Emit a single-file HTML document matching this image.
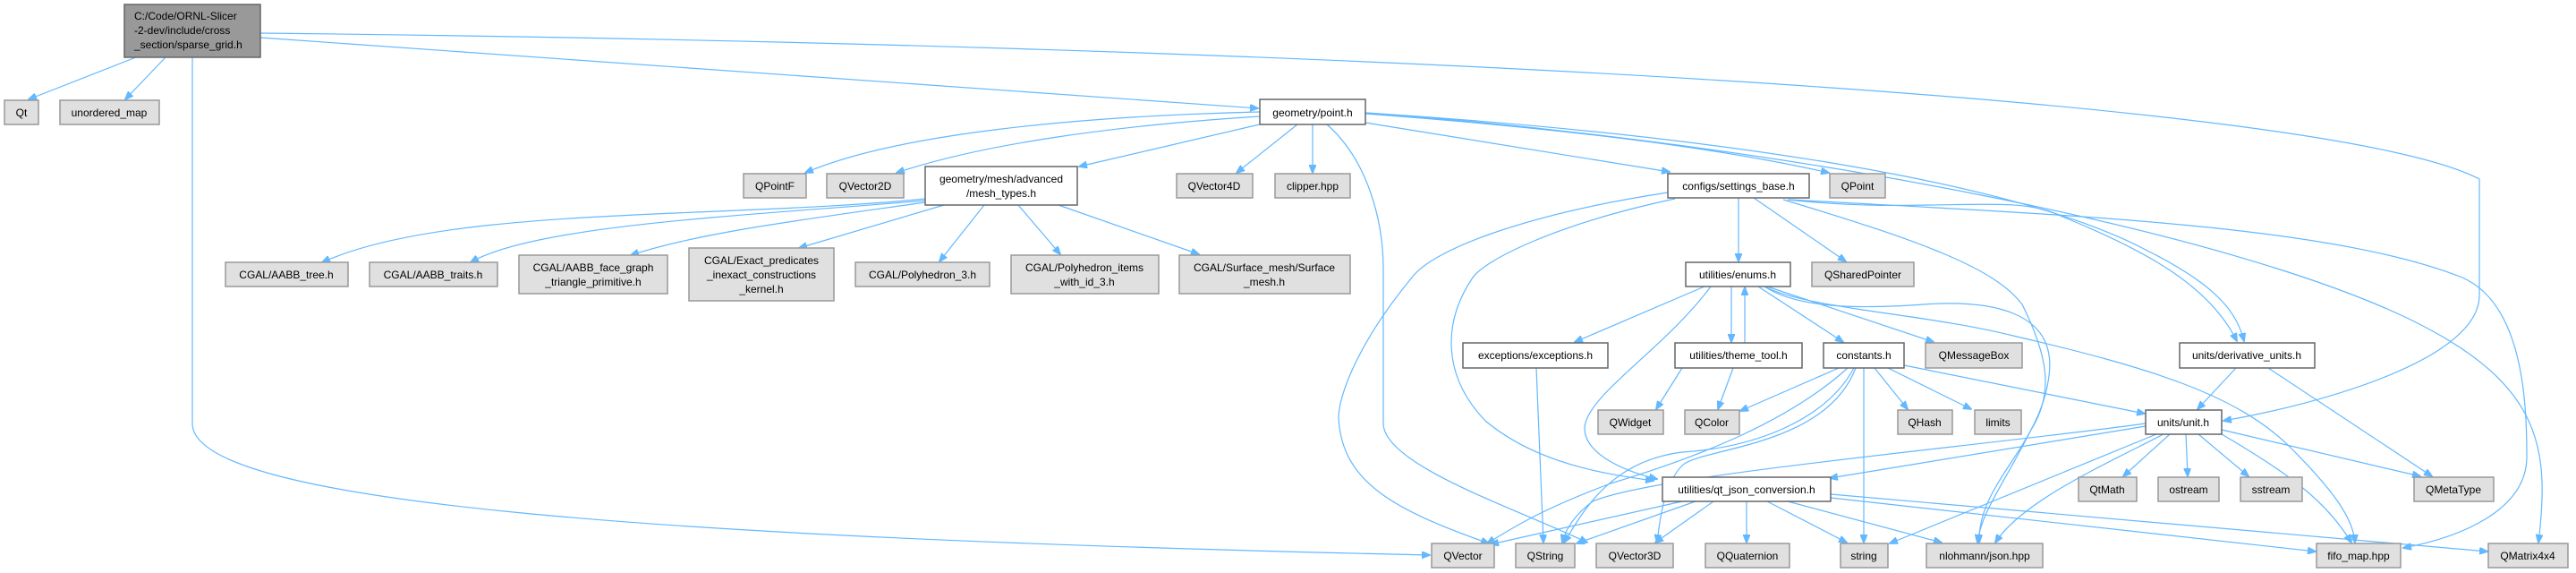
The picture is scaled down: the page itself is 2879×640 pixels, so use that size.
<!DOCTYPE html>
<html><head><meta charset="utf-8"><style>
html,body{margin:0;padding:0;background:#fff;}
svg{display:block;}
text{font-family:"Liberation Sans",sans-serif;font-size:12px;fill:#000;}
.g{fill:#e0e0e0;stroke:#999;stroke-width:1.5}
.w{fill:#fff;stroke:#666;stroke-width:1.5}
.m{fill:#999;stroke:#666;stroke-width:1.5}
path.e{fill:none;stroke:#63b8ff;stroke-width:1.2;marker-end:url(#a)}
</style></head><body>
<svg width="2879" height="640" viewBox="0 0 2879 640" xmlns="http://www.w3.org/2000/svg">
<defs><marker id="a" markerWidth="10" markerHeight="8" refX="9" refY="4" orient="auto" markerUnits="userSpaceOnUse"><path d="M0,0 L10,4 L0,8 z" fill="#63b8ff" stroke="#63b8ff"/></marker></defs>
<g>
<path class="e" d="M152,64 L32,111"/>
<path class="e" d="M185,64 L140,111"/>
<path class="e" d="M291,42 L1406,121"/>
<path class="e" d="M291,37 C1500,50 2600,110 2771,200 L2771,330 C2771,400 2600,450 2485,470"/>
<path class="e" d="M215,64 L215,473 C215,560 700,600 1598,620"/>
<path class="e" d="M1408,125 C1200,130 1000,150 900,193"/>
<path class="e" d="M1408,130 C1250,140 1100,160 1002,193"/>
<path class="e" d="M1412,138 L1206,186"/>
<path class="e" d="M1450,139 L1382,193"/>
<path class="e" d="M1467,139 L1467,193"/>
<path class="e" d="M1483,139 C1530,180 1546,250 1546,300 L1546,473 C1546,520 1700,570 1774,606"/>
<path class="e" d="M1526,137 L1866,192"/>
<path class="e" d="M1526,127 C1700,140 1900,160 2044,193"/>
<path class="e" d="M1526,126 C1900,150 2250,200 2400,280 C2480,320 2500,350 2508,381"/>
<path class="e" d="M1526,126 C2000,160 2500,260 2700,360 C2840,430 2850,500 2837,606"/>
<path class="e" d="M1943,221 L1943,292"/>
<path class="e" d="M1960,221 L2063,292"/>
<path class="e" d="M1864,215 C1700,240 1600,280 1578,310 C1520,380 1496,440 1496,467 C1500,540 1560,570 1664,607"/>
<path class="e" d="M1872,222 C1740,250 1660,290 1646,310 C1612,360 1612,420 1660,470 C1720,520 1800,530 1848,537"/>
<path class="e" d="M1993,223 C2150,270 2230,300 2260,340 C2290,400 2295,440 2270,480 C2240,540 2215,570 2210,606"/>
<path class="e" d="M1998,223 C2150,240 2250,215 2300,240 C2400,280 2470,320 2500,381"/>
<path class="e" d="M2000,223 C2300,240 2600,250 2752,310 C2820,340 2824,450 2824,510 C2824,570 2750,600 2686,612"/>
<path class="e" d="M1905,320 L1760,382"/>
<path class="e" d="M1935,320 L1935,382"/>
<path class="e" d="M1950,383 L1950,321"/>
<path class="e" d="M1965,320 L2060,382"/>
<path class="e" d="M1975,320 L2161,382"/>
<path class="e" d="M1972,320 C2010,345 2080,345 2150,340 C2220,335 2300,345 2290,420 C2280,500 2210,540 2212,606"/>
<path class="e" d="M1972,320 C2020,345 2150,350 2250,375 C2400,410 2500,440 2560,500 C2610,550 2630,580 2632,606"/>
<path class="e" d="M1912,320 C1860,390 1775,440 1771,477 C1770,505 1810,525 1852,535"/>
<path class="e" d="M1880,411 L1851,457"/>
<path class="e" d="M1937,411 L1920,457"/>
<path class="e" d="M1717,411 L1725,606"/>
<path class="e" d="M2055,411 L1945,459"/>
<path class="e" d="M2095,411 L2132,457"/>
<path class="e" d="M2110,411 L2203,457"/>
<path class="e" d="M2128,408 L2397,462"/>
<path class="e" d="M2083,411 L2083,606"/>
<path class="e" d="M2065,411 C2000,470 1900,510 1800,540 C1720,570 1690,590 1662,607"/>
<path class="e" d="M2072,411 C2040,470 1960,500 1880,505 C1800,515 1770,570 1748,606"/>
<path class="e" d="M2074,411 C2040,500 1900,500 1880,520 C1860,540 1855,580 1852,606"/>
<path class="e" d="M2499,411 L2456,457"/>
<path class="e" d="M2535,411 L2718,532"/>
<path class="e" d="M2398,476 L2045,534"/>
<path class="e" d="M2398,473 C2200,500 1850,530 1780,560 C1760,575 1750,590 1746,606"/>
<path class="e" d="M2425,485 L2373,532"/>
<path class="e" d="M2443,485 L2445,532"/>
<path class="e" d="M2457,485 L2513,532"/>
<path class="e" d="M2483,480 L2705,532"/>
<path class="e" d="M2483,485 C2560,530 2600,560 2628,606"/>
<path class="e" d="M2410,485 L2112,607"/>
<path class="e" d="M2418,485 C2350,520 2260,560 2230,606"/>
<path class="e" d="M1880,560 L1666,608"/>
<path class="e" d="M1895,560 L1762,607"/>
<path class="e" d="M1915,560 L1850,606"/>
<path class="e" d="M1952,560 L1952,606"/>
<path class="e" d="M1975,560 L2064,606"/>
<path class="e" d="M1998,560 L2170,606"/>
<path class="e" d="M2046,556 L2588,616"/>
<path class="e" d="M2046,552 L2780,616"/>
<path class="e" d="M1034,222 C800,245 500,230 360,293"/>
<path class="e" d="M1034,224 C850,240 600,250 526,293"/>
<path class="e" d="M1034,226 C900,245 780,260 705,285"/>
<path class="e" d="M1055,229 L893,277"/>
<path class="e" d="M1100,229 L1050,292"/>
<path class="e" d="M1138,229 L1185,284"/>
<path class="e" d="M1183,229 L1340,284"/>
</g>
<rect class="m" x="139" y="5" width="152" height="59"/>
<text x="150" y="22">C:/Code/ORNL-Slicer</text>
<text x="150" y="38">-2-dev/include/cross</text>
<text x="150" y="54">_section/sparse_grid.h</text>
<g text-anchor="middle">
<rect class="g" x="5" y="112" width="38" height="27"/><text x="24" y="130">Qt</text>
<rect class="g" x="67" y="112" width="111" height="27"/><text x="122" y="130">unordered_map</text>
<rect class="w" x="1408" y="111" width="118" height="28"/><text x="1467" y="130">geometry/point.h</text>
<rect class="g" x="831" y="194" width="70" height="27"/><text x="866" y="212">QPointF</text>
<rect class="g" x="924" y="194" width="86" height="27"/><text x="967" y="212">QVector2D</text>
<rect class="w" x="1034" y="186" width="170" height="43"/><text x="1119" y="204">geometry/mesh/advanced</text><text x="1119" y="220">/mesh_types.h</text>
<rect class="g" x="1315" y="194" width="85" height="27"/><text x="1357" y="212">QVector4D</text>
<rect class="g" x="1425" y="194" width="84" height="27"/><text x="1467" y="212">clipper.hpp</text>
<rect class="w" x="1864" y="194" width="158" height="27"/><text x="1943" y="212">configs/settings_base.h</text>
<rect class="g" x="2045" y="194" width="62" height="27"/><text x="2076" y="212">QPoint</text>
<rect class="g" x="252" y="293" width="137" height="27"/><text x="320" y="311">CGAL/AABB_tree.h</text>
<rect class="g" x="413" y="293" width="143" height="27"/><text x="484" y="311">CGAL/AABB_traits.h</text>
<rect class="g" x="580" y="285" width="166" height="43"/><text x="663" y="303">CGAL/AABB_face_graph</text><text x="663" y="319">_triangle_primitive.h</text>
<rect class="g" x="770" y="277" width="162" height="59"/><text x="851" y="295">CGAL/Exact_predicates</text><text x="851" y="311">_inexact_constructions</text><text x="851" y="327">_kernel.h</text>
<rect class="g" x="956" y="293" width="150" height="27"/><text x="1031" y="311">CGAL/Polyhedron_3.h</text>
<rect class="g" x="1130" y="285" width="165" height="43"/><text x="1212" y="303">CGAL/Polyhedron_items</text><text x="1212" y="319">_with_id_3.h</text>
<rect class="g" x="1318" y="285" width="191" height="43"/><text x="1413" y="303">CGAL/Surface_mesh/Surface</text><text x="1413" y="319">_mesh.h</text>
<rect class="w" x="1884" y="293" width="117" height="27"/><text x="1942" y="311">utilities/enums.h</text>
<rect class="g" x="2025" y="293" width="114" height="27"/><text x="2082" y="311">QSharedPointer</text>
<rect class="w" x="1635" y="383" width="162" height="28"/><text x="1716" y="401">exceptions/exceptions.h</text>
<rect class="w" x="1872" y="383" width="142" height="28"/><text x="1943" y="401">utilities/theme_tool.h</text>
<rect class="w" x="2038" y="383" width="90" height="28"/><text x="2083" y="401">constants.h</text>
<rect class="g" x="2152" y="383" width="108" height="28"/><text x="2206" y="401">QMessageBox</text>
<rect class="w" x="2436" y="383" width="151" height="28"/><text x="2511" y="401">units/derivative_units.h</text>
<rect class="g" x="1786" y="458" width="73" height="27"/><text x="1822" y="476">QWidget</text>
<rect class="g" x="1883" y="458" width="61" height="27"/><text x="1913" y="476">QColor</text>
<rect class="g" x="2121" y="458" width="61" height="27"/><text x="2151" y="476">QHash</text>
<rect class="g" x="2207" y="458" width="52" height="27"/><text x="2233" y="476">limits</text>
<rect class="w" x="2398" y="458" width="85" height="27"/><text x="2440" y="476">units/unit.h</text>
<rect class="w" x="1858" y="533" width="188" height="27"/><text x="1952" y="551">utilities/qt_json_conversion.h</text>
<rect class="g" x="2323" y="533" width="65" height="27"/><text x="2355" y="551">QtMath</text>
<rect class="g" x="2412" y="533" width="68" height="27"/><text x="2446" y="551">ostream</text>
<rect class="g" x="2504" y="533" width="69" height="27"/><text x="2538" y="551">sstream</text>
<rect class="g" x="2698" y="533" width="89" height="27"/><text x="2742" y="551">QMetaType</text>
<rect class="g" x="1600" y="607" width="70" height="27"/><text x="1635" y="625">QVector</text>
<rect class="g" x="1694" y="607" width="66" height="27"/><text x="1727" y="625">QString</text>
<rect class="g" x="1784" y="607" width="86" height="27"/><text x="1827" y="625">QVector3D</text>
<rect class="g" x="1906" y="607" width="94" height="27"/><text x="1953" y="625">QQuaternion</text>
<rect class="g" x="2057" y="607" width="53" height="27"/><text x="2083" y="625">string</text>
<rect class="g" x="2153" y="607" width="130" height="27"/><text x="2218" y="625">nlohmann/json.hpp</text>
<rect class="g" x="2589" y="607" width="94" height="27"/><text x="2636" y="625">fifo_map.hpp</text>
<rect class="g" x="2781" y="607" width="89" height="27"/><text x="2825" y="625">QMatrix4x4</text>
</g>
</svg>
</body></html>
